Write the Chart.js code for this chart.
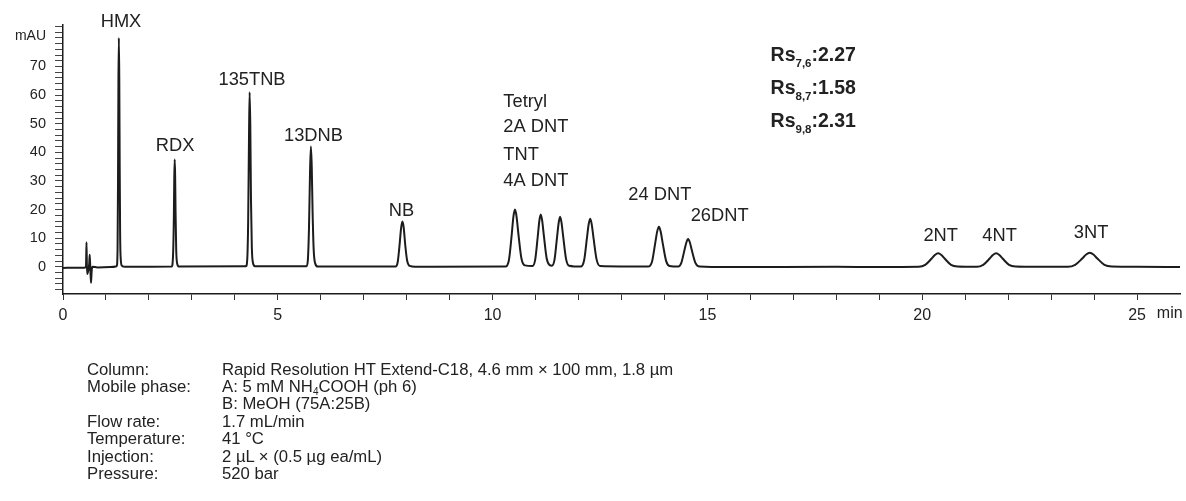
<!DOCTYPE html>
<html><head><meta charset="utf-8">
<script src="https://cdn.jsdelivr.net/npm/chart.js@4.4.1/dist/chart.umd.min.js"></script>
<style>
html,body{margin:0;padding:0;background:#fff;}
#wrap{position:relative;width:1186px;height:501px;overflow:hidden;}
canvas{position:absolute;left:0;top:0;}
.cond{position:absolute;font-family:"Liberation Sans",Arial,sans-serif;font-size:16.7px;line-height:17.4px;color:#222;white-space:nowrap;}
.cond sub{font-size:10px;vertical-align:-3px;line-height:0;}
</style></head>
<body><div id="wrap"><canvas id="c" width="1186" height="501"></canvas>
<div class="cond" style="left:87px;top:360.5px">Column:<br>Mobile phase:<br><br>Flow rate:<br>Temperature:<br>Injection:<br>Pressure:</div>
<div class="cond" style="left:222px;top:360.5px">Rapid Resolution HT Extend-C18, 4.6 mm × 100 mm, 1.8 µm<br>A: 5 mM NH<sub>4</sub>COOH (ph 6)<br>B: MeOH (75A:25B)<br>1.7 mL/min<br>41 °C<br>2 µL × (0.5 µg ea/mL)<br>520 bar</div>
</div>
<script>
// ---- data ----
const traceTime = [
  0.00, 0.30, 0.50, 0.535, 0.547, 0.56, 0.59, 0.61, 0.622, 0.637, 0.652, 0.667, 0.685, 0.80, 1.10,
  1.25, 1.27, 1.28, 1.29, 1.30, 1.31, 1.32, 1.33, 1.345, 1.37, 1.45,
  2.53, 2.56, 2.58, 2.59, 2.60, 2.61, 2.62, 2.635, 2.66, 2.70,
  4.26, 4.29, 4.31, 4.33, 4.344, 4.36, 4.375, 4.395, 4.42, 4.47,
  5.67, 5.70, 5.725, 5.75, 5.77, 5.79, 5.81, 5.835, 5.87, 5.93,
  7.74, 7.79, 7.83, 7.87, 7.90, 7.93, 7.965, 8.01, 8.07, 8.20,
  10.30, 10.38, 10.44, 10.485, 10.52, 10.555, 10.60, 10.67, 10.75,
  10.93, 10.99, 11.05, 11.088, 11.12, 11.152, 11.195, 11.26, 11.33,
  11.38, 11.44, 11.50, 11.538, 11.57, 11.602, 11.645, 11.71, 11.78,
  12.05, 12.13, 12.195, 12.235, 12.27, 12.305, 12.35, 12.42, 12.50,
  13.62, 13.71, 13.785, 13.83, 13.87, 13.91, 13.96, 14.04, 14.12,
  14.32, 14.39, 14.465, 14.51, 14.55, 14.59, 14.64, 14.72, 14.82,
  15.5, 18.0, 19.0,
  19.92, 20.07, 20.22, 20.295, 20.37, 20.445, 20.52, 20.67, 20.82,
  21.27, 21.42, 21.57, 21.645, 21.72, 21.795, 21.87, 22.02, 22.17, 22.70,
  23.39, 23.56, 23.73, 23.815, 23.90, 23.985, 24.07, 24.24, 24.41,
  25.0, 26.0
];
const traceSignal = [
  -0.4, -0.3, -0.3, 0.0, 8.6, -2.5, -1.2, 1.0, 4.2, -1.0, -5.6, -1.5, 0.0, -0.2, -0.1,
  0.2, 6, 28, 64, 80, 66, 34, 11, 2.5, 0.4, 0.0,
  0.1, 3.5, 17, 31, 37.5, 32, 19, 6, 1, 0.1,
  0.2, 3, 16, 46, 61, 49, 24, 7, 1.5, 0.2,
  0.2, 2.5, 13, 33, 42, 35, 19, 6, 1.2, 0.1,
  0.1, 1.6, 7.0, 13.5, 15.8, 13.8, 7.8, 2.2, 0.3, 0.0,
  0.1, 2.4, 10.5, 17.6, 20.0, 17.8, 11.5, 3.0, 0.5,
  0.3, 2.4, 10.5, 16.1, 18.3, 16.3, 10.6, 2.8, 0.6,
  0.4, 2.4, 10.4, 15.4, 17.5, 15.6, 10.3, 2.7, 0.4,
  0.1, 2.3, 10.0, 14.8, 16.8, 15.0, 9.9, 2.6, 0.3,
  0.1, 1.8, 8.3, 12.3, 14.0, 12.4, 8.2, 2.0, 0.3,
  0.1, 1.3, 5.8, 8.5, 9.7, 8.6, 5.6, 1.4, 0.1,
  -0.1, 0.0, -0.1,
  0.0, 0.7, 2.9, 4.1, 4.7, 4.1, 2.9, 0.7, 0.1,
  0.0, 0.7, 2.9, 4.1, 4.7, 4.1, 2.9, 0.7, 0.1, 0.0,
  0.0, 0.7, 3.0, 4.3, 4.9, 4.3, 3.0, 0.7, 0.1,
  0.0, -0.1
];
const xTickValues = [0,1,2,3,4,5,6,7,8,9,10,11,12,13,14,15,16,17,18,19,20,21,22,23,24,25];
const xTickLabels = ['0','5','10','15','20','25'];
const yTickValues = [-8,-6,-4,-2,0,2,4,6,8,10,12,14,16,18,20,22,24,26,28,30,32,34,36,38,40,42,44,46,48,50,52,54,56,58,60,62,64,66,68,70,72,74,76,78,80,82,84];
const yTickLabels = ['0','10','20','30','40','50','60','70'];
const peakNames = ['HMX','RDX','135TNB','13DNB','NB','Tetryl','2A DNT','TNT','4A DNT','24 DNT','26DNT','2NT','4NT','3NT'];
const resolutionPairs = ['7,6','8,7','9,8'];
const resolutionValues = ['2.27','1.58','2.31'];
const yUnit = 'mAU';
const xUnit = 'min';

// ---- label placement (data units: minutes, mAU baseline) ----
const labelAnchors = [
  [1.35, 83.8, 'center'], [2.61, 40.5, 'center'], [4.40, 63.5, 'center'], [5.83, 44.1, 'center'],
  [7.88, 17.7, 'center'], [10.25, 55.7, 'left'], [10.25, 47.0, 'left'], [10.25, 37.3, 'left'],
  [10.25, 28.2, 'left'], [13.16, 23.3, 'left'], [14.61, 16.1, 'left'], [20.43, 9.1, 'center'],
  [21.80, 9.1, 'center'], [23.93, 10.0, 'center']
];
const rsAnchors = [[16.47, 72.0], [16.47, 60.3], [16.47, 48.9]];

const FONT = '"Liberation Sans", Arial, sans-serif';
Chart.defaults.font.family = FONT;
Chart.defaults.color = '#222';

const textPlugin = {
  id: 'chromText',
  afterDraw(chart) {
    const ctx = chart.ctx, xs = chart.scales.x, ys = chart.scales.y;
    ctx.save();
    ctx.fillStyle = '#222';
    ctx.textBaseline = 'alphabetic';
    ctx.font = '18.3px ' + FONT;
    peakNames.forEach((n, i) => {
      const a = labelAnchors[i];
      ctx.textAlign = a[2];
      ctx.fillText(n, xs.getPixelForValue(a[0]), ys.getPixelForValue(a[1]));
    });
    // Rs block
    ctx.textAlign = 'left';
    resolutionPairs.forEach((p, i) => {
      let x = xs.getPixelForValue(rsAnchors[i][0]);
      const y = ys.getPixelForValue(rsAnchors[i][1]);
      ctx.font = 'bold 19.5px ' + FONT;
      ctx.fillText('Rs', x, y);
      x += ctx.measureText('Rs').width;
      ctx.font = 'bold 11.5px ' + FONT;
      ctx.fillText(p, x, y + 6);
      x += ctx.measureText(p).width;
      ctx.font = 'bold 19.5px ' + FONT;
      ctx.fillText(':' + resolutionValues[i], x, y);
    });
    // axis units
    ctx.font = '14px ' + FONT;
    ctx.textAlign = 'right';
    ctx.fillText(yUnit, ys.left + ys.width - 8 - 9, ys.getPixelForValue(81) + 5);
    ctx.font = '16px ' + FONT;
    ctx.textAlign = 'left';
    ctx.textBaseline = 'top';
    ctx.fillText(xUnit, xs.getPixelForValue(25.46), xs.top + 6 + 6);
    ctx.restore();
  }
};

new Chart(document.getElementById('c'), {
  type: 'scatter',
  data: {
    datasets: [{
      data: traceTime.map((t, i) => ({ x: t, y: traceSignal[i] })),
      showLine: true,
      borderColor: '#1c1c1c',
      borderWidth: 2,
      pointRadius: 0,
      cubicInterpolationMode: 'monotone',
      fill: false
    }]
  },
  options: {
    responsive: false,
    animation: false,
    devicePixelRatio: 1,
    layout: { padding: { top: 25, right: 6, left: 0, bottom: 0 } },
    plugins: { legend: { display: false }, tooltip: { enabled: false } },
    events: [],
    scales: {
      x: {
        type: 'linear', min: 0, max: 26,
        afterBuildTicks: s => { s.ticks = xTickValues.map(v => ({ value: v })); },
        afterFit: s => { s.height = 207; },
        grid: { drawOnChartArea: false, drawTicks: true, tickLength: 6, color: '#333', lineWidth: 1 },
        border: { display: true, color: '#1c1c1c', width: 1.5 },
        ticks: {
          autoSkip: false, maxRotation: 0, padding: 6, color: '#222',
          font: { size: 16, family: FONT },
          callback: v => xTickLabels.includes(String(v)) ? String(v) : ''
        }
      },
      y: {
        type: 'linear', min: -9.5, max: 84.5,
        afterBuildTicks: s => { s.ticks = yTickValues.map(v => ({ value: v })); },
        afterFit: s => { s.width = 63; },
        grid: { drawOnChartArea: false, drawTicks: true, tickLength: 8, color: '#444', lineWidth: 1 },
        border: { display: true, color: '#1c1c1c', width: 1.5 },
        ticks: {
          autoSkip: false, padding: 9, color: '#222',
          font: { size: 14.5, family: FONT },
          callback: v => yTickLabels.includes(String(v)) ? String(v) : ''
        }
      }
    }
  },
  plugins: [textPlugin]
});
</script>
</body></html>
